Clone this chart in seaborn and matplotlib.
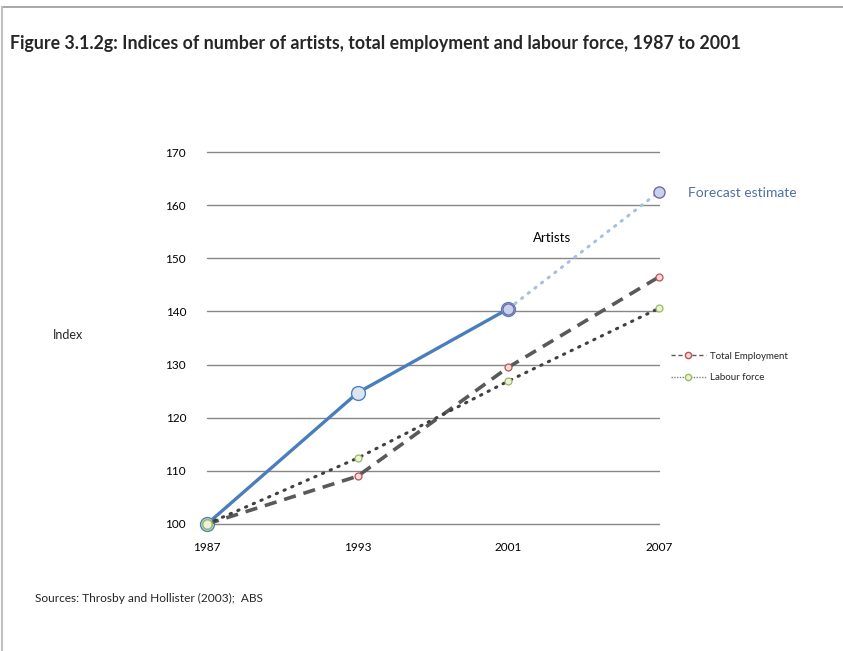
import matplotlib
matplotlib.use("Agg")
import matplotlib.pyplot as plt
from matplotlib.lines import Line2D
import seaborn as sns
import pandas as pd

# Years on the category axis
years = ["1987", "1993", "2001", "2007"]

# Index values (1987 = 100)
artists = [100, 124.7, 140.5]            # 1987, 1993, 2001
artists_forecast = [140.5, 162.5]        # 2001, 2007
total_employment = [100, 109.0, 129.5, 146.5]
labour_force = [100, 112.4, 126.9, 140.6]

y_ticks = [100, 110, 120, 130, 140, 150, 160, 170]

sns.set_theme(style="white")
plt.rcParams["font.family"] = ["Lato", "DejaVu Sans"]

fig = plt.figure(figsize=(8.43, 6.51), dpi=100)
ax = fig.add_axes([207 / 843, 1 - 524 / 651, (659 - 207) / 843, (524 - 152) / 651])

pos = list(range(len(years)))

df_emp = pd.DataFrame({"x": pos, "y": total_employment})
df_lab = pd.DataFrame({"x": pos, "y": labour_force})
df_art = pd.DataFrame({"x": pos[:len(artists)], "y": artists})
df_fc = pd.DataFrame({"x": pos[len(artists) - 1:], "y": artists_forecast})

# Total employment: long dashes
sns.lineplot(data=df_emp, x="x", y="y", ax=ax, color="#595959", lw=2.6,
             marker="o", markersize=5, markerfacecolor="#f2dcdb",
             markeredgecolor="#c0504d", markeredgewidth=0.9,
             dashes=False, clip_on=False, zorder=3)
ax.lines[-1].set_dashes((3.4, 2.2))

# Labour force: dotted
sns.lineplot(data=df_lab, x="x", y="y", ax=ax, color="#404040", lw=2.2,
             marker="o", markersize=5, markerfacecolor="#ebf1de",
             markeredgecolor="#9bbb59", markeredgewidth=0.9,
             clip_on=False, zorder=4)
ax.lines[-1].set_linestyle((0, (0.45, 2.3)))
ax.lines[-1].set_dash_capstyle("round")

# Artists: solid blue
sns.lineplot(data=df_art, x="x", y="y", ax=ax, color="#4a7ebb", lw=2.4,
             marker="o", markersize=10, markerfacecolor="#dbe5f1",
             markeredgecolor="#4f81bd", markeredgewidth=1.0,
             clip_on=False, zorder=2)

# Artists forecast: light dotted
sns.lineplot(data=df_fc, x="x", y="y", ax=ax, color="#a7c0de", lw=2.2,
             marker="o", markersize=8, markerfacecolor="#c6d3ee",
             markeredgecolor="#8064a2", markeredgewidth=1.0,
             clip_on=False, zorder=2)
ax.lines[-1].set_linestyle((0, (0.45, 2.3)))
ax.lines[-1].set_dash_capstyle("round")

# Green start marker drawn on top at 1987
ax.plot([pos[0]], [labour_force[0]], marker="o", markersize=7,
        markerfacecolor="#ebf1de", markeredgecolor="#9bbb59",
        markeredgewidth=1.2, clip_on=False, zorder=6, linestyle="none")

ax.set_xlim(0, 3)
ax.set_ylim(100, 170)
ax.set_yticks(y_ticks)
ax.set_xticks(pos)
ax.set_xticklabels(years)
ax.yaxis.grid(True, color="#868686", lw=1)
ax.xaxis.grid(False)
ax.set_axisbelow(True)
for gl in ax.get_ygridlines():
    gl.set_clip_on(False)
for s in ax.spines.values():
    s.set_visible(False)
ax.tick_params(axis="both", length=0, labelsize=8.5, labelcolor="#000000")
ax.tick_params(axis="y", pad=15)
ax.tick_params(axis="x", pad=13)
ax.set_xlabel("")
ax.set_ylabel("")

# In-chart labels
ax.text(2.29, 153.8, "Artists", ha="center", va="center", fontsize=9.5,
        color="#000000")
ax.text(3.19, 162.3, "Forecast estimate", ha="left", va="center",
        fontsize=10, color="#4f6fa8", clip_on=False)

# Legend for the comparison series
handles = [
    Line2D([], [], color="#595959", lw=1.0, dashes=(3, 2), marker="o",
           markersize=4.5, markerfacecolor="#f2dcdb", markeredgecolor="#c0504d"),
    Line2D([], [], color="#7f7f7f", lw=1.0, linestyle=(0, (1, 1)), marker="o",
           markersize=4.5, markerfacecolor="#ebf1de", markeredgecolor="#9bbb59"),
]
fig.legend(handles, ["Total Employment", "Labour force"], loc="center left",
           bbox_to_anchor=(662 / 843, 1 - 367 / 651), frameon=False,
           fontsize=7, handlelength=3.6, handletextpad=0.4, labelspacing=1.3,
           numpoints=1)

fig.text(10 / 843, 1 - 43 / 651,
         "Figure 3.1.2g: Indices of number of artists, total employment and labour force, 1987 to 2001",
         ha="left", va="center", fontsize=12.8, fontweight="bold")
fig.text(53 / 843, 1 - 335 / 651, "Index", ha="left", va="center", fontsize=9)
fig.text(35 / 843, 1 - 598 / 651, "Sources: Throsby and Hollister (2003);  ABS",
         ha="left", va="center", fontsize=8.6)

# Page frame edges
fig.add_artist(Line2D([2 / 843, 1], [1 - 7 / 651, 1 - 7 / 651],
                      transform=fig.transFigure, color="#9a9a9a", lw=1.2))
fig.add_artist(Line2D([2 / 843, 2 / 843], [0, 1 - 7 / 651],
                      transform=fig.transFigure, color="#c0c0c0", lw=1.5))

fig.savefig("out.png", dpi=100)
